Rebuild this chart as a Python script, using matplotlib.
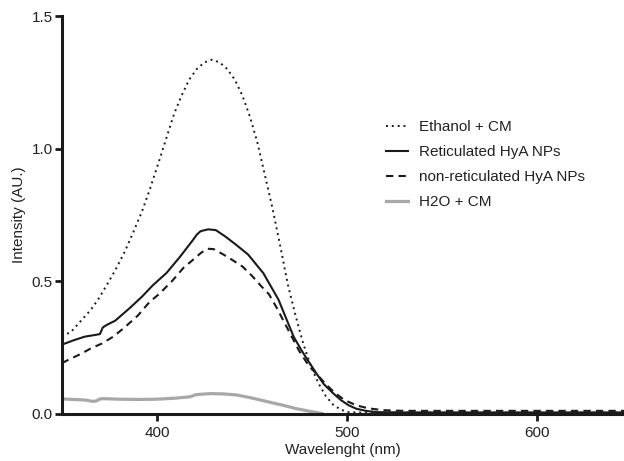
import matplotlib
matplotlib.use("Agg")
import matplotlib.pyplot as plt

plt.rcParams['font.family'] = ['Liberation Sans', 'DejaVu Sans']

# Ethanol + CM (dotted)
eth_x = [350, 355, 360, 365, 369, 374, 378, 383, 387, 392, 396, 401, 405, 409, 413,
         417, 421, 425, 429, 433, 437, 441, 445, 449, 453, 457, 461, 465, 469, 473,
         477, 481, 485, 489, 493, 497, 501, 510, 550, 600, 650]
eth_y = [0.29, 0.31, 0.35, 0.39, 0.43, 0.49, 0.54, 0.61, 0.675, 0.76, 0.84, 0.95, 1.04, 1.13, 1.20,
         1.26, 1.30, 1.325, 1.335, 1.325, 1.30, 1.26, 1.20, 1.12, 1.02, 0.895, 0.77, 0.63, 0.485, 0.37,
         0.265, 0.18, 0.115, 0.065, 0.032, 0.014, 0.005, 0.003, 0.003, 0.003, 0.003]

# Reticulated HyA NPs (solid)
ret_x = [350, 356, 362, 368, 370, 371.5, 374, 378, 382, 386, 392, 398, 405, 412, 419,
         421, 423, 427, 431, 436, 442, 448, 452, 456, 460, 464, 468, 472, 476, 480,
         484, 488, 493, 497, 501, 505, 510, 516, 530, 650]
ret_y = [0.26, 0.276, 0.29, 0.297, 0.30, 0.325, 0.336, 0.35, 0.375, 0.40, 0.44, 0.485, 0.53, 0.59, 0.655,
         0.675, 0.688, 0.695, 0.692, 0.668, 0.635, 0.60, 0.565, 0.53, 0.48, 0.43, 0.36, 0.29, 0.24, 0.195,
         0.151, 0.11, 0.075, 0.05, 0.031, 0.018, 0.01, 0.005, 0.004, 0.004]

# non-reticulated HyA NPs (dashed)
non_x = [350, 354, 360, 365, 371, 377, 383, 390, 396, 401, 408, 414, 419, 423, 426.5,
         430, 435, 440, 445, 450, 455, 459, 463, 467, 471, 475, 480, 484, 489, 494,
         499, 505, 511, 519, 530, 650]
non_y = [0.19, 0.205, 0.225, 0.245, 0.264, 0.29, 0.325, 0.37, 0.42, 0.45, 0.50, 0.55, 0.58, 0.605, 0.622,
         0.62, 0.60, 0.578, 0.555, 0.52, 0.48, 0.45, 0.40, 0.345, 0.29, 0.235, 0.18, 0.15, 0.11, 0.076,
         0.05, 0.031, 0.02, 0.0125, 0.01, 0.01]

# H2O + CM (grey)
h2o_x = [350, 356, 362, 366, 368, 370, 372, 380, 390, 400, 410, 417.5, 420, 422, 428,
         435, 442, 449, 455, 461, 467, 473, 480, 487]
h2o_y = [0.055, 0.053, 0.051, 0.046, 0.047, 0.055, 0.056, 0.054, 0.053, 0.054, 0.058, 0.063, 0.07, 0.072, 0.075,
         0.074, 0.07, 0.06, 0.05, 0.04, 0.03, 0.019, 0.009, 0.0]

labels = ["Ethanol + CM", "Reticulated HyA NPs", "non-reticulated HyA NPs", "H2O + CM"]
x_ticks = [400, 500, 600]
y_ticks = [0.0, 0.5, 1.0, 1.5]

fig = plt.figure(figsize=(6.24, 4.61), dpi=100)
ax = fig.add_axes([62/624, 1 - 413.5/461, 1 - 62/624, (413.5 - 16)/461])

ax.plot(eth_x, eth_y, color='#1a1a1a', lw=1.4, linestyle=(0, (1, 2.0)), label=labels[0])
ax.plot(ret_x, ret_y, color='#1a1a1a', lw=1.5, linestyle='-', label=labels[1])
ax.plot(non_x, non_y, color='#1a1a1a', lw=1.5, linestyle=(0, (3.5, 2.5)), label=labels[2])
ax.plot(h2o_x, h2o_y, color='#a8a8a8', lw=2.3, linestyle='-', label=labels[3])

ax.set_xlim(350, 646)
ax.set_ylim(0, 1.5)
ax.set_xticks(x_ticks)
ax.set_yticks(y_ticks)
ax.set_yticklabels([f"{v:.1f}" for v in y_ticks])

for s in ['top', 'right']:
    ax.spines[s].set_visible(False)
for s in ['left', 'bottom']:
    ax.spines[s].set_linewidth(2.2)
    ax.spines[s].set_color('#1a1a1a')
ax.tick_params(axis='both', direction='out', length=5, width=2, color='#1a1a1a',
               labelsize=11, labelcolor='#222222')
ax.tick_params(axis='x', pad=4)
ax.tick_params(axis='y', pad=1.5)

ax.set_xlabel("Wavelenght (nm)", fontsize=11, color='#222222', labelpad=2)
ax.set_ylabel("Intensity (AU.)", fontsize=11, color='#222222', labelpad=4)

leg = fig.legend(loc='upper left', bbox_to_anchor=(386/624, 1 - 120/461),
                 frameon=False, fontsize=11, handlelength=1.45, handletextpad=0.72,
                 labelspacing=0.73, borderpad=0, borderaxespad=0)
for t in leg.get_texts():
    t.set_color('#222222')

fig.savefig("out.png", dpi=100)
